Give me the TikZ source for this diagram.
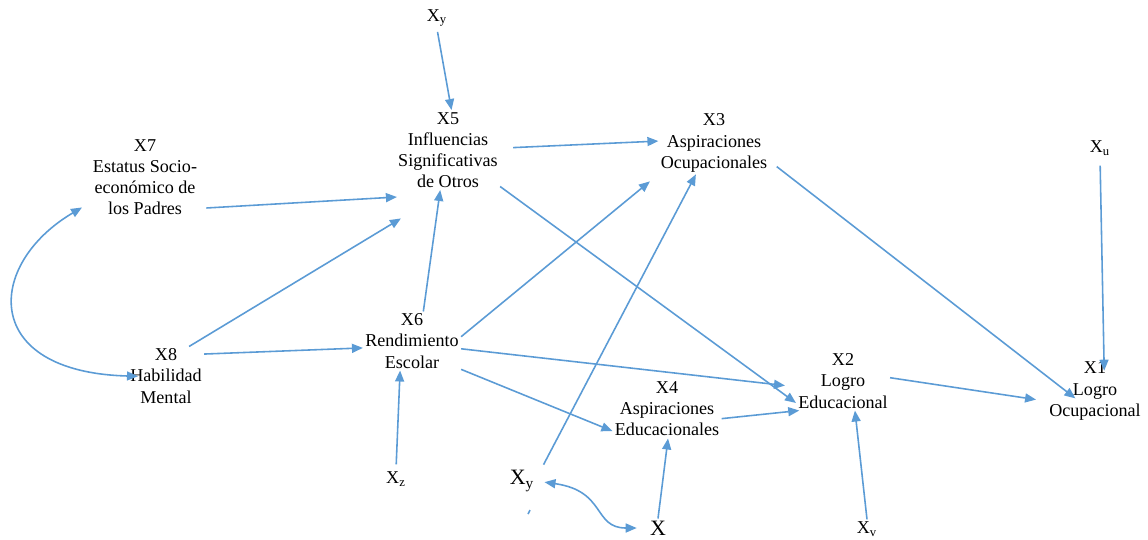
\documentclass[tikz,border=0pt]{standalone}
\usepackage{fontspec}
\setmainfont{Liberation Serif}
\usepackage{tikz}
\usetikzlibrary{arrows.meta,calc}
\usepackage{xcolor}
\definecolor{azul}{RGB}{91,155,213}

\tikzset{
  texto/.style={align=center, inner sep=0.04cm, font=\fontsize{10.3}{12}\selectfont},
  grande/.style={inner sep=0.04cm, font=\fontsize{12.5}{14}\selectfont},
  flecha/.style={azul, line width=0.9pt, -{Triangle[length=0.22cm, width=0.18cm]}},
  doble/.style={{Triangle[length=0.22cm, width=0.18cm]}-{Triangle[length=0.22cm, width=0.18cm]}}
}

\begin{document}
\begin{tikzpicture}[x=0.02cm, y=-0.02cm]
\useasboundingbox (0,0) rectangle (1148,539);

% variables
\node[texto] (x5) at (448,150) {X5\\Influencias\\Significativas\\de Otros};
\node[texto] (x7) at (145,177) {X7\\Estatus Socio-\\económico de\\los Padres};
\node[texto] (x3) at (714,143) {X3\\Aspiraciones\\Ocupacionales};
\node[texto] (x6) at (412,341) {X6\\Rendimiento\\Escolar};
\node[texto] (x8) at (166,376) {X8\\Habilidad\\Mental};
\node[texto] (x2) at (843,381) {X2\\Logro\\Educacional};
\node[texto] (x1) at (1095,391) {X1\\Logro\\Ocupacional};
\node[texto] (x4) at (667,409) {X4\\Aspiraciones\\Educacionales};

% residuos
\node[texto] (xyt) at (437,18) {X\textsubscript{y}};
\node[texto] (xu) at (1100,148) {X\textsubscript{u}};
\node[texto] (xz) at (396,479) {X\textsubscript{z}};
\node[texto] (xv) at (867,529) {X\textsubscript{v}};
\node[grande] (xyb) at (522,481) {X\textsubscript{y}};
\node[grande] (xb) at (658,528) {X};

% flechas
\draw[flecha, shorten <=0.06cm] (xyt.south) -- (x5.85);
\draw[flecha, shorten <=0.14cm] (x7.-30) -- ($(x5.south west)+(1,7)$);
\draw[flecha, shorten >=1.1cm] (x8.52) -- (x5.south);
\draw[flecha] (x8.30) -- (x6.188);
\draw[flecha] (x6.69) -- (x5.-101);
\draw[flecha, shorten <=0.26cm] (x5.2) -- (x3.178);
\draw[flecha] (x5.-35) -- (x2.-155);
\draw[flecha, shorten >=0.22cm] (x6.5) -- (x3.south west);
\draw[flecha, shorten >=0.22cm] (x6.-9) -- (x2.-173);
\draw[flecha] (x6.-30) -- (x4.-158);
\draw[flecha] (x4.-10) -- (x2.-146);
\draw[flecha, shorten <=0.1cm] (xz.north) -- (x6.-112);
\draw[flecha, shorten <=0.3cm] (xyb.12) -- (x3.-120);
\draw[flecha] (xb.north) -- (x4.-88);
\draw[flecha] (xv.north) -- (x2.-68);
\draw[flecha, shorten >=0.22cm] (x2.4) -- (x1.-168);
\draw[flecha, shorten <=0.18cm, shorten >=-0.72cm] (x3.-18) -- (x1.163);
\draw[flecha, shorten <=0.16cm, shorten >=-0.22cm] (xu.south) -- (x1.74);

% correlaciones
\draw[flecha, doble, shorten <=0.2cm, shorten >=-0.2cm] (x7.-155) .. controls +(-105,62) and +(-148,-4) .. (x8.west);
\draw[flecha, doble, shorten <=0.16cm, shorten >=0.22cm] (xyb.east) .. controls +(70,10) and +(-55,0) .. (xb.west);

% marca
\draw[azul, line width=0.9pt] (528,514) -- (530,510);

\end{tikzpicture}
\end{document}
